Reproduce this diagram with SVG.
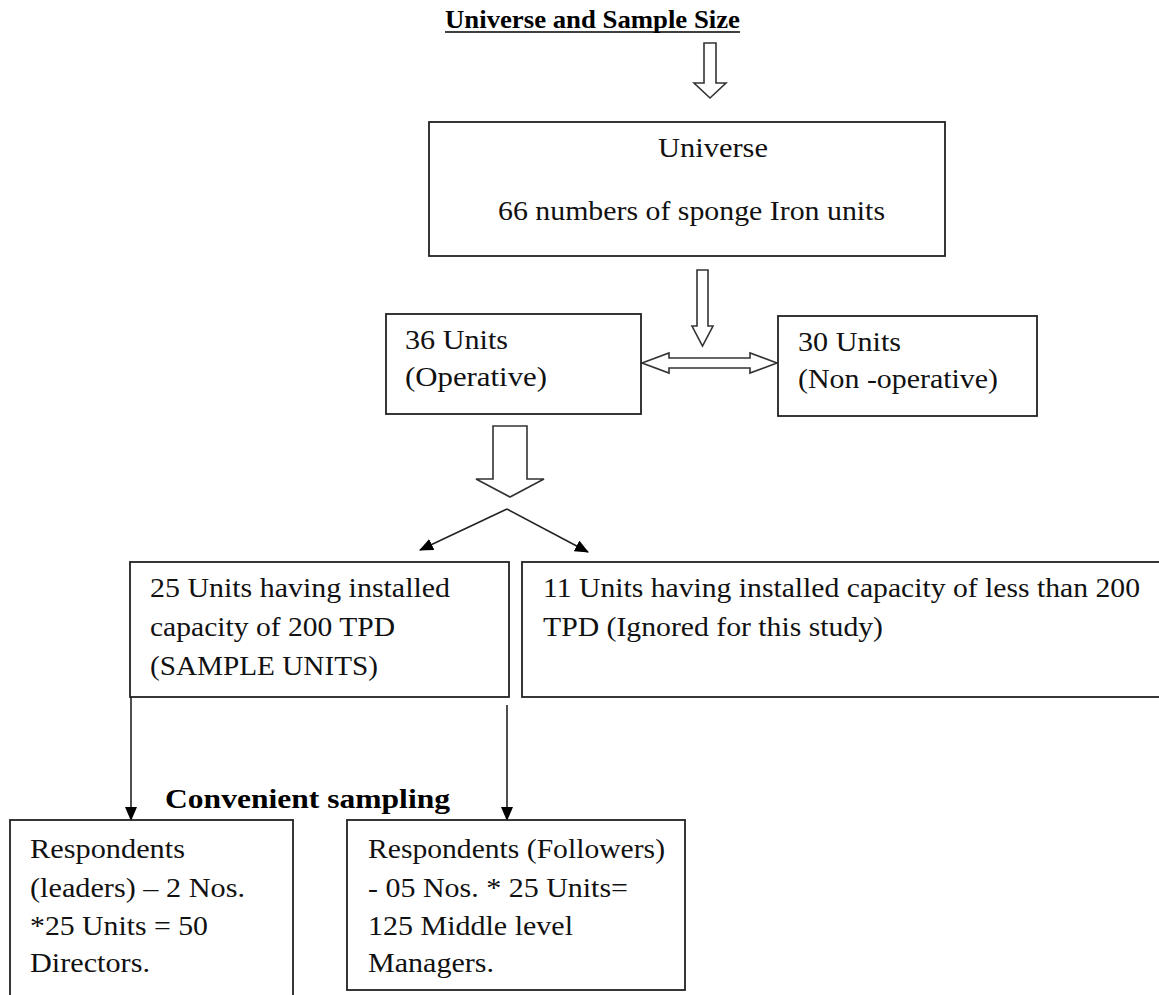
<svg xmlns="http://www.w3.org/2000/svg" width="1159" height="995" viewBox="0 0 1159 995">
<style>
.box{fill:#fff;stroke:#222;stroke-width:1.8}
.t{font-family:"Liberation Serif","Times New Roman",serif;font-size:27px;fill:#111}
.b{font-family:"Liberation Serif","Times New Roman",serif;font-weight:bold;fill:#000}
.hollow{fill:#fff;stroke:#333;stroke-width:1.6;stroke-linejoin:miter}
.thin{fill:none;stroke:#222;stroke-width:1.6}
</style>
<defs>
<marker id="ah" markerWidth="14" markerHeight="12" refX="13" refY="6" orient="auto" markerUnits="userSpaceOnUse">
<path d="M0,0 L14,6 L0,12 Z" fill="#000"/>
</marker>
</defs>
<rect width="1159" height="995" fill="#fff"/>
<g id="title">
<text class="b" x="445" y="28" font-size="26" textLength="295" lengthAdjust="spacingAndGlyphs">Universe and Sample Size</text>
<line x1="445" y1="32" x2="740" y2="32" stroke="#000" stroke-width="1.6"/>
</g>
<g id="connectors">
<polygon class="hollow" points="704,43 716,43 716,83 726,83 710,98 694,83 704,83"/>
<polygon class="hollow" points="697,270 708,270 708,326 713,326 702.5,346 692,326 697,326"/>
<polygon class="hollow" points="642,363 669,353 669,358 750,358 750,353 777,363 750,373 750,368 669,368 669,373"/>
<polygon class="hollow" points="493,426 527,426 527,479 544,479 510,497 476,479 493,479"/>
<line class="thin" x1="507" y1="509" x2="420" y2="550" marker-end="url(#ah)"/>
<line class="thin" x1="507" y1="509" x2="588" y2="552" marker-end="url(#ah)"/>
<line class="thin" x1="131" y1="697" x2="131" y2="820" marker-end="url(#ah)"/>
<line class="thin" x1="507" y1="705" x2="507" y2="820" marker-end="url(#ah)"/>
</g>
<g id="universe">
<rect class="box" x="429" y="122" width="516" height="134"/>
<text class="t" x="658" y="157" textLength="110" lengthAdjust="spacingAndGlyphs">Universe</text>
<text class="t" x="498" y="220" textLength="387" lengthAdjust="spacingAndGlyphs">66 numbers of sponge Iron units</text>
</g>
<g id="operative">
<rect class="box" x="386" y="314" width="255" height="100"/>
<text class="t" x="405" y="349" textLength="103" lengthAdjust="spacingAndGlyphs">36 Units</text>
<text class="t" x="405" y="386" textLength="142" lengthAdjust="spacingAndGlyphs">(Operative)</text>
</g>
<g id="nonoperative">
<rect class="box" x="778" y="316" width="259" height="100"/>
<text class="t" x="798" y="351" textLength="103" lengthAdjust="spacingAndGlyphs">30 Units</text>
<text class="t" x="798" y="388" textLength="200" lengthAdjust="spacingAndGlyphs">(Non -operative)</text>
</g>
<g id="sample">
<rect class="box" x="130" y="562" width="379" height="135"/>
<text class="t" x="150" y="597" textLength="300" lengthAdjust="spacingAndGlyphs">25 Units having installed</text>
<text class="t" x="150" y="636" textLength="245" lengthAdjust="spacingAndGlyphs">capacity of 200 TPD</text>
<text class="t" x="150" y="675" textLength="228" lengthAdjust="spacingAndGlyphs">(SAMPLE UNITS)</text>
</g>
<g id="ignored">
<rect class="box" x="522" y="562" width="650" height="135"/>
<text class="t" x="543" y="597" textLength="597" lengthAdjust="spacingAndGlyphs">11 Units having installed capacity of less than 200</text>
<text class="t" x="543" y="636" textLength="340" lengthAdjust="spacingAndGlyphs">TPD (Ignored for this study)</text>
</g>
<g id="convenient">
<text class="b" x="165" y="808" font-size="27" textLength="285" lengthAdjust="spacingAndGlyphs">Convenient sampling</text>
</g>
<g id="leaders">
<rect class="box" x="10" y="820" width="283" height="190"/>
<text class="t" x="30" y="858" textLength="155" lengthAdjust="spacingAndGlyphs">Respondents</text>
<text class="t" x="30" y="897" textLength="215" lengthAdjust="spacingAndGlyphs">(leaders) – 2 Nos.</text>
<text class="t" x="30" y="935" textLength="178" lengthAdjust="spacingAndGlyphs">*25 Units = 50</text>
<text class="t" x="30" y="972" textLength="120" lengthAdjust="spacingAndGlyphs">Directors.</text>
</g>
<g id="followers">
<rect class="box" x="347" y="820" width="338" height="170"/>
<text class="t" x="368" y="858" textLength="297" lengthAdjust="spacingAndGlyphs">Respondents (Followers)</text>
<text class="t" x="368" y="897" textLength="260" lengthAdjust="spacingAndGlyphs">- 05 Nos. * 25 Units=</text>
<text class="t" x="368" y="935" textLength="205" lengthAdjust="spacingAndGlyphs">125 Middle level</text>
<text class="t" x="368" y="972" textLength="126" lengthAdjust="spacingAndGlyphs">Managers.</text>
</g>
</svg>
